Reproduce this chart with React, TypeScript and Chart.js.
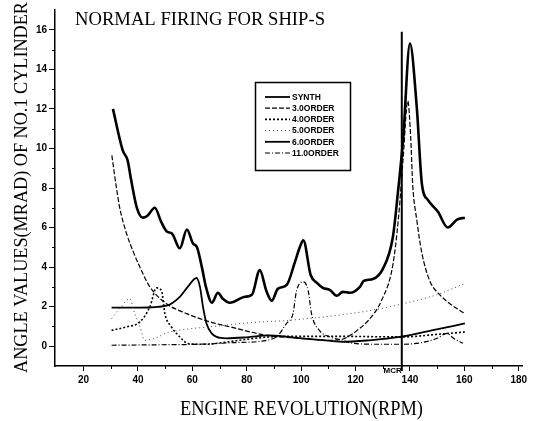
import React, { useEffect, useRef } from 'react';
import { Chart, registerables } from 'chart.js';
Chart.register(...registerables);

const TITLE = 'NORMAL FIRING FOR SHIP-S';
const X_TITLE = 'ENGINE REVOLUTION(RPM)';
const Y_TITLE = 'ANGLE VALUES(MRAD) OF NO.1 CYLINDER';

const X_TICKS = [20, 40, 60, 80, 100, 120, 140, 160, 180];
const X_MINOR = [30, 50, 70, 90, 110, 130, 150, 170];
const Y_TICKS = [0, 2, 4, 6, 8, 10, 12, 14, 16];
const Y_MINOR = [1, 3, 5, 7, 9, 11, 13, 15];

const LABELS = ['SYNTH', '3.0ORDER', '4.0ORDER', '5.0ORDER', '6.0ORDER', '11.0ORDER'];

const SYNTH_RPM = [30.8, 34.4, 36.2, 37.5, 39.6, 41.8, 43.5, 46.2, 48.5, 50.6, 52.5, 55.4, 58.0, 60.2, 61.7, 63.5, 65.0, 67.2, 69.4, 71.2, 73.8, 79.3, 81.9, 84.8, 87.2, 89.2, 91.4, 94.7, 97.7, 99.5, 100.8, 103.5, 105.8, 108.0, 110.5, 113.1, 115.3, 118.0, 121.6, 123.0, 126.4, 130.0, 133.7, 135.6, 137.5, 140.0, 142.5, 144.4, 146.6, 150.3, 153.9, 157.3, 160.2];
const SYNTH_VAL = [12.0, 9.9, 9.4, 8.4, 7.0, 6.5, 6.6, 7.0, 6.3, 5.8, 5.7, 4.95, 5.9, 5.2, 5.0, 4.0, 3.0, 2.2, 2.7, 2.4, 2.2, 2.5, 2.6, 3.85, 2.8, 2.3, 2.9, 3.1, 4.25, 5.0, 5.35, 3.6, 3.2, 2.95, 2.85, 2.55, 2.75, 2.7, 3.0, 3.3, 3.4, 3.9, 5.5, 7.8, 10.5, 15.3, 12.1, 8.2, 7.4, 6.8, 6.0, 6.4, 6.5];

const O3_RPM = [30.4, 32.1, 33.3, 35.8, 38.2, 40.7, 44.4, 50.5, 57.9, 66.5, 73.8, 87.4, 100, 110, 115, 117.5, 120.6, 125, 129.5, 133.7, 135.8, 137.5, 139.2, 140.3, 141, 142.5, 144.4, 147.3, 151, 154.7, 160.2];
const O3_VAL = [9.65, 8.0, 7.0, 5.7, 4.8, 4.0, 3.0, 2.15, 1.65, 1.23, 0.98, 0.55, 0.4, 0.3, 0.35, 0.5, 0.8, 1.35, 2.3, 4.1, 6.5, 9.5, 12.4, 10.5, 8.2, 6.4, 4.7, 3.3, 2.6, 2.15, 1.65];

const O4_RPM = [30.3, 35.8, 40.7, 44.4, 46.8, 48.7, 49.9, 52.3, 55.4, 58.5, 65, 72, 80, 88.5, 100, 115, 128, 137.5, 150, 160.2];
const O4_VAL = [0.8, 0.98, 1.23, 2.0, 2.95, 2.8, 1.65, 0.98, 0.47, 0.13, 0.1, 0.2, 0.35, 0.47, 0.5, 0.5, 0.48, 0.47, 0.6, 0.72];

const O5_RPM = [30.3, 33.3, 37, 38.8, 40.7, 42.5, 46.2, 50.5, 57.9, 66.5, 82, 94.6, 113, 125.2, 137.5, 149.8, 160.2];
const O5_VAL = [1.4, 1.9, 2.4, 1.65, 1.0, 0.3, 0.4, 0.67, 0.86, 0.98, 1.2, 1.3, 1.56, 1.8, 2.15, 2.6, 3.17];

const O6_RPM = [30.3, 40.7, 50.5, 55.4, 58.3, 61.5, 62.8, 63.9, 65.2, 67.1, 68.9, 72.6, 80, 88.5, 100, 110, 115.3, 125, 136.3, 148, 160.2];
const O6_VAL = [1.95, 1.95, 2.05, 2.5, 3.0, 3.45, 3.0, 2.0, 1.15, 0.65, 0.47, 0.4, 0.45, 0.55, 0.4, 0.28, 0.22, 0.3, 0.47, 0.8, 1.15];

const O11_RPM = [30.3, 45, 62.8, 75, 87.4, 91.5, 94.6, 97, 98.3, 100.8, 102.6, 103.8, 106.7, 110.5, 115.4, 118, 128, 137, 145, 150, 153.6, 156, 159.5];
const O11_VAL = [0.05, 0.07, 0.1, 0.18, 0.3, 0.55, 1.15, 1.65, 2.8, 3.25, 2.8, 1.65, 0.8, 0.47, 0.3, 0.17, 0.1, 0.1, 0.2, 0.4, 0.65, 0.4, 0.15];

const MCR_RPM = 137.0;
const MCR_TOP = 15.9;
const MCR_LABEL = 'MCR';

const STYLES = [
  { width: 2.6, dash: [] as number[], color: '#000' },
  { width: 1.2, dash: [5, 2], color: '#000' },
  { width: 1.6, dash: [2, 2], color: '#000' },
  { width: 1.0, dash: [1, 3], color: '#444' },
  { width: 1.8, dash: [] as number[], color: '#000' },
  { width: 1.2, dash: [5, 2, 1, 2], color: '#000' },
];

const SERIES = [
  [SYNTH_RPM, SYNTH_VAL],
  [O3_RPM, O3_VAL],
  [O4_RPM, O4_VAL],
  [O5_RPM, O5_VAL],
  [O6_RPM, O6_VAL],
  [O11_RPM, O11_VAL],
];

function fitText(ctx: CanvasRenderingContext2D, text: string, x: number, y: number, w: number, font: string, rot = 0) {
  ctx.save();
  ctx.font = font;
  const m = ctx.measureText(text).width;
  ctx.translate(x, y);
  if (rot) ctx.rotate(rot);
  ctx.scale(w / m, 1);
  ctx.textAlign = 'left';
  ctx.textBaseline = 'alphabetic';
  ctx.fillStyle = '#000';
  ctx.fillText(text, 0, 0);
  ctx.restore();
}

const overlay = {
  id: 'overlay',
  afterDraw(chart: any) {
    const { ctx, chartArea, scales } = chart;
    const xs = scales.x;
    const ys = scales.y;
    ctx.save();
    ctx.strokeStyle = '#000';
    ctx.lineWidth = 1;
    ctx.setLineDash([]);
    ctx.beginPath();
    X_MINOR.forEach((v) => {
      const px = Math.round(xs.getPixelForValue(v)) + 0.5;
      ctx.moveTo(px, chartArea.bottom);
      ctx.lineTo(px, chartArea.bottom + 3);
    });
    Y_MINOR.forEach((v) => {
      const py = Math.round(ys.getPixelForValue(v)) + 0.5;
      ctx.moveTo(chartArea.left, py);
      ctx.lineTo(chartArea.left - 3, py);
    });
    ctx.stroke();

    // MCR line
    const mx = xs.getPixelForValue(MCR_RPM);
    ctx.lineWidth = 2;
    ctx.beginPath();
    ctx.moveTo(mx, ys.getPixelForValue(MCR_TOP));
    ctx.lineTo(mx, chartArea.bottom + 5);
    ctx.stroke();
    ctx.font = 'bold 8px "Liberation Sans", Arial, sans-serif';
    ctx.fillStyle = '#000';
    ctx.textAlign = 'right';
    ctx.textBaseline = 'top';
    ctx.fillText(MCR_LABEL, mx, chartArea.bottom + 1);

    // Titles
    fitText(ctx, TITLE, 75, 25, 250, '19px "Liberation Serif", serif');
    fitText(ctx, X_TITLE, 180, 415, 243, '21px "Liberation Serif", serif');
    fitText(ctx, Y_TITLE, 27, 373, 371, '18px "Liberation Serif", serif', -Math.PI / 2);

    // Legend
    const bx = 255, by = 82, bw = 95, bh = 88;
    ctx.lineWidth = 1.5;
    ctx.strokeRect(bx + 0.5, by + 0.5, bw, bh);
    LABELS.forEach((lab, i) => {
      const st = STYLES[i];
      const ry = 97 + i * 11.2;
      ctx.strokeStyle = st.color;
      ctx.lineWidth = Math.min(st.width, 1.8);
      ctx.setLineDash(st.dash);
      ctx.beginPath();
      ctx.moveTo(265, ry);
      ctx.lineTo(290, ry);
      ctx.stroke();
      ctx.setLineDash([]);
      ctx.font = 'bold 8.5px "Liberation Sans", Arial, sans-serif';
      ctx.fillStyle = '#000';
      ctx.textAlign = 'left';
      ctx.textBaseline = 'middle';
      ctx.fillText(lab, 292, ry + 0.5);
    });
    ctx.restore();
  },
};

export default function App() {
  const ref = useRef<HTMLCanvasElement>(null);
  useEffect(() => {
    const tickFont = { family: '"Liberation Sans", Arial, sans-serif', size: 10, weight: 'bold' as const };
    const chart = new Chart(ref.current!, {
      type: 'line',
      data: {
        datasets: SERIES.map(([xs, vs], i) => ({
          label: LABELS[i],
          data: xs.map((x, j) => ({ x, y: vs[j] })),
          borderColor: STYLES[i].color,
          borderWidth: STYLES[i].width,
          borderDash: STYLES[i].dash,
          pointRadius: 0,
          fill: false,
          cubicInterpolationMode: 'monotone' as const,
        })),
      },
      options: {
        responsive: false,
        animation: false,
        devicePixelRatio: 1,
        layout: { padding: { left: 0, right: 16, top: 10, bottom: 0 } },
        plugins: { legend: { display: false }, title: { display: false }, tooltip: { enabled: false } },
        scales: {
          x: {
            type: 'linear',
            min: 9.5,
            max: 181.2,
            afterBuildTicks: (s: any) => { s.ticks = X_TICKS.map((v) => ({ value: v })); },
            afterFit: (s: any) => { s.height = 55; },
            grid: { display: true, drawOnChartArea: false, drawTicks: true, tickLength: 5, color: '#000', lineWidth: 1 },
            border: { display: true, color: '#000', width: 1.5 },
            ticks: { color: '#000', font: tickFont, padding: 3, maxRotation: 0, autoSkip: false, callback: (v: any) => String(v) },
          },
          y: {
            type: 'linear',
            min: -1,
            max: 17,
            afterBuildTicks: (s: any) => { s.ticks = Y_TICKS.map((v) => ({ value: v })); },
            afterFit: (s: any) => { s.width = 55; },
            grid: { display: true, drawOnChartArea: false, drawTicks: true, tickLength: 6, color: '#000', lineWidth: 1 },
            border: { display: true, color: '#000', width: 1.5 },
            ticks: { color: '#000', font: tickFont, padding: 2, autoSkip: false, callback: (v: any) => String(v) },
          },
        },
      },
      plugins: [overlay],
    });
    return () => chart.destroy();
  }, []);
  return (
    <div style={{ position: 'fixed', left: 0, top: 0, width: 538, height: 421, background: '#fff' }}>
      <canvas ref={ref} width={538} height={421} style={{ display: 'block' }} />
    </div>
  );
}
